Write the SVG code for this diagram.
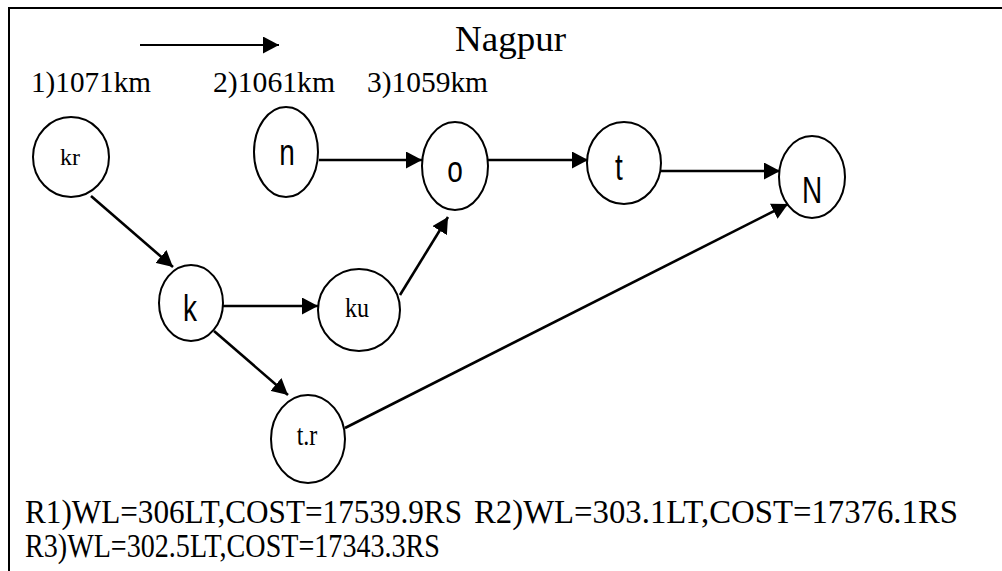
<svg xmlns="http://www.w3.org/2000/svg" width="1002" height="571" viewBox="0 0 1002 571">
  <style>
    .node { fill: #ffffff; stroke: #000000; stroke-width: 2; }
    .edge { stroke: #000000; stroke-width: 2.6; fill: none; marker-end: url(#arrow); }
    .serif { font-family: "Liberation Serif", "Times New Roman", serif; fill: #000000; }
    .sans { font-family: "Liberation Sans", Arial, sans-serif; fill: #000000; font-size: 28px; text-anchor: middle; }
    .lbl { font-family: "Liberation Serif", "Times New Roman", serif; fill: #000000; font-size: 24px; text-anchor: middle; }
  </style>
  <defs>
    <marker id="arrow" markerUnits="userSpaceOnUse" markerWidth="17" markerHeight="17" refX="16" refY="8.5" orient="auto">
      <path d="M0,0 L16,8.5 L0,17 Z" fill="#000000"/>
    </marker>
  </defs>

  <rect width="1002" height="571" fill="#ffffff"/>

  <!-- frame -->
  <g id="frame" stroke="#000000" stroke-width="2" fill="none">
    <line x1="8" y1="8" x2="1002" y2="8"/>
    <line x1="9" y1="8" x2="9" y2="571"/>
  </g>

  <!-- heading -->
  <g id="heading">
    <line x1="140" y1="45" x2="279" y2="45" stroke="#000000" stroke-width="2.2" marker-end="url(#arrow)"/>
    <text class="serif" x="455" y="51" font-size="36" textLength="111" lengthAdjust="spacingAndGlyphs">Nagpur</text>
    <text class="serif" x="31" y="92" font-size="29" textLength="120" lengthAdjust="spacingAndGlyphs">1)1071km</text>
    <text class="serif" x="213" y="92" font-size="29" textLength="122" lengthAdjust="spacingAndGlyphs">2)1061km</text>
    <text class="serif" x="367" y="92" font-size="29" textLength="121" lengthAdjust="spacingAndGlyphs">3)1059km</text>
  </g>

  <!-- connectors -->
  <g id="connectors">
    <line class="edge" x1="91" y1="196" x2="173" y2="267"/>
    <line class="edge" x1="223" y1="306" x2="318" y2="306"/>
    <line class="edge" x1="214" y1="331" x2="288" y2="395"/>
    <line class="edge" x1="400" y1="295" x2="448" y2="217"/>
    <line class="edge" x1="319" y1="160" x2="422" y2="160"/>
    <line class="edge" x1="488" y1="160" x2="588" y2="160"/>
    <line class="edge" x1="660" y1="171" x2="780" y2="171"/>
    <line class="edge" x1="345" y1="428" x2="788" y2="204"/>
  </g>

  <!-- nodes -->
  <g id="node-kr">
    <ellipse class="node" cx="71" cy="157" rx="38" ry="40"/>
    <text class="lbl" x="70" y="165">kr</text>
  </g>
  <g id="node-n">
    <ellipse class="node" cx="286" cy="152" rx="32" ry="45"/>
    <text class="sans" transform="translate(287,165) scale(1,1.35)">n</text>
  </g>
  <g id="node-o">
    <ellipse class="node" cx="455" cy="166" rx="33" ry="44"/>
    <text class="sans" transform="translate(455,182) scale(1,1.35)">o</text>
  </g>
  <g id="node-t">
    <ellipse class="node" cx="624" cy="163" rx="37" ry="41"/>
    <text class="sans" transform="translate(619,180) scale(1,1.35)">t</text>
  </g>
  <g id="node-N">
    <ellipse class="node" cx="812" cy="177" rx="33" ry="41"/>
    <text class="sans" transform="translate(812,203) scale(1,1.35)">N</text>
  </g>
  <g id="node-k">
    <ellipse class="node" cx="191" cy="303" rx="32" ry="38"/>
    <text class="sans" transform="translate(190,321) scale(1,1.35)">k</text>
  </g>
  <g id="node-ku">
    <ellipse class="node" cx="359" cy="310" rx="41" ry="41"/>
    <text class="lbl" transform="translate(357,317) scale(1,1.15)">ku</text>
  </g>
  <g id="node-tr">
    <ellipse class="node" cx="308" cy="439" rx="37" ry="44"/>
    <text class="lbl" transform="translate(307,445) scale(1,1.25)">t.r</text>
  </g>

  <!-- results -->
  <g id="results">
    <text class="serif" x="25" y="523" font-size="34" textLength="437" lengthAdjust="spacingAndGlyphs">R1)WL=306LT,COST=17539.9RS</text>
    <text class="serif" x="474" y="523" font-size="34" textLength="484" lengthAdjust="spacingAndGlyphs">R2)WL=303.1LT,COST=17376.1RS</text>
    <text class="serif" x="25" y="557" font-size="34" textLength="415" lengthAdjust="spacingAndGlyphs">R3)WL=302.5LT,COST=17343.3RS</text>
  </g>
</svg>
